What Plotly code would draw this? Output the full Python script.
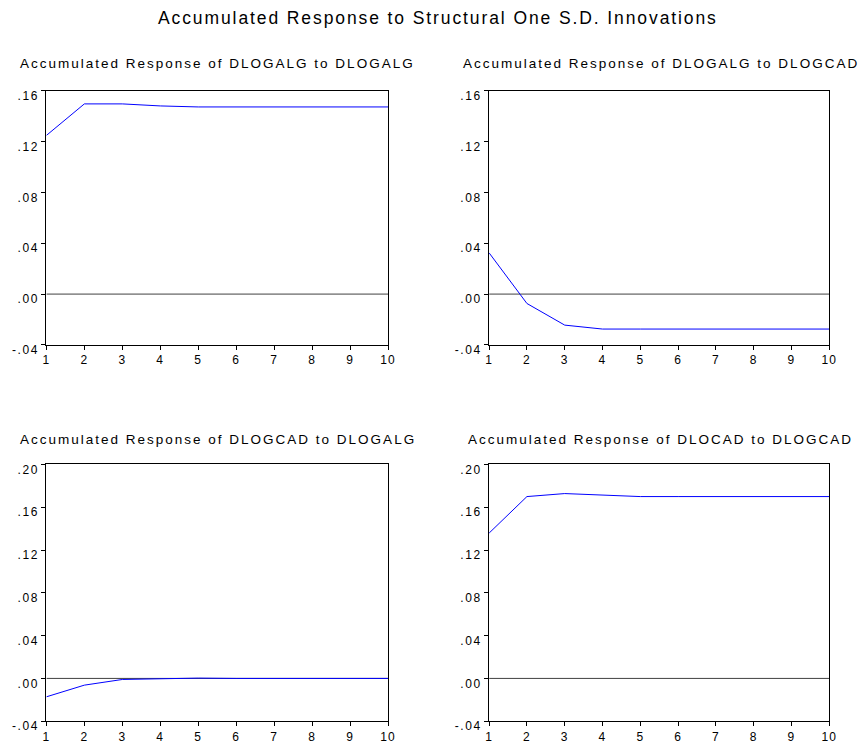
import plotly.graph_objects as go

# Forecast horizon (periods)
periods = [1, 2, 3, 4, 5, 6, 7, 8, 9, 10]

# Accumulated impulse responses
resp_alg_to_alg = [0.1248, 0.1496, 0.1496, 0.1480, 0.1472, 0.1472, 0.1472, 0.1472, 0.1472, 0.1472]
resp_alg_to_cad = [0.0324, -0.0074, -0.0244, -0.0275, -0.0275, -0.0275, -0.0275, -0.0275, -0.0275, -0.0275]
resp_cad_to_alg = [-0.0172, -0.0063, -0.0010, 0.0000, 0.0003, 0.0000, 0.0000, 0.0000, 0.0000, 0.0000]
resp_cad_to_cad = [0.1359, 0.1700, 0.1728, 0.1713, 0.1700, 0.1700, 0.1700, 0.1700, 0.1700, 0.1700]

panel_titles = [
    "Accumulated Response of DLOGALG to DLOGALG",
    "Accumulated Response of DLOGALG to DLOGCAD",
    "Accumulated Response of DLOGCAD to DLOGALG",
    "Accumulated Response of DLOCAD to DLOGCAD",
]
main_title = "Accumulated Response to Structural One S.D. Innovations"

top_ticks = [-0.04, 0.00, 0.04, 0.08, 0.12, 0.16]
top_ticktext = ["-.04", ".00", ".04", ".08", ".12", ".16"]
bottom_ticks = [-0.04, 0.00, 0.04, 0.08, 0.12, 0.16, 0.20]
bottom_ticktext = ["-.04", ".00", ".04", ".08", ".12", ".16", ".20"]
period_labels = ["1", "2", "3", "4", "5", "6", "7", "8", "9", "10"]

W, H = 859, 744
FONT = "Arial, Liberation Sans, Helvetica, sans-serif"


def spaced(text, px):
    """Wrap text in a tspan with extra letter spacing."""
    return f'<span style="letter-spacing:{px}px">{text}</span>'


# pixel boxes of each panel: (left, right, top, bottom)
boxes = [
    (43, 389.5, 90.5, 350),
    (492, 837, 90.5, 350),
    (43, 389.5, 472, 734),
    (492, 837, 472, 734),
]
series = [resp_alg_to_alg, resp_alg_to_cad, resp_cad_to_alg, resp_cad_to_cad]
yranges = [(-0.04, 0.16), (-0.04, 0.16), (-0.04, 0.20), (-0.04, 0.20)]
ytickvals = [top_ticks, top_ticks, bottom_ticks, bottom_ticks]
yticktexts = [top_ticktext, top_ticktext, bottom_ticktext, bottom_ticktext]
title_x = [14, 463, 14, 469]
title_y = [63, 63, 447, 447]

fig = go.Figure()
layout = dict(
    width=W, height=H,
    margin=dict(l=0, r=0, t=0, b=0),
    paper_bgcolor="white", plot_bgcolor="white",
    showlegend=False,
    font=dict(family=FONT, color="black"),
    annotations=[],
    shapes=[],
)

for i in range(4):
    l, r, t, b = boxes[i]
    xa = "xaxis" if i == 0 else f"xaxis{i+1}"
    ya = "yaxis" if i == 0 else f"yaxis{i+1}"
    xref = "x" if i == 0 else f"x{i+1}"
    yref = "y" if i == 0 else f"y{i+1}"

    fig.add_trace(go.Scatter(
        x=periods, y=series[i], mode="lines",
        line=dict(color="#0000ff", width=1),
        xaxis=xref, yaxis=yref, hoverinfo="x+y",
    ))

    layout[xa] = dict(
        domain=[l / W, r / W], anchor=yref,
        range=[1, 10], tickvals=periods,
        ticktext=[spaced(s, 1.2) for s in period_labels],
        ticks="outside", ticklen=4, tickwidth=1, tickcolor="black",
        showline=True, linecolor="black", linewidth=1, mirror=True,
        showgrid=False, zeroline=False,
        tickfont=dict(size=12, family=FONT, color="black"),
    )
    layout[ya] = dict(
        domain=[1 - b / H, 1 - t / H], anchor=xref,
        range=list(yranges[i]), tickvals=ytickvals[i],
        ticktext=[spaced(s, 1.6) for s in yticktexts[i]],
        ticks="outside", ticklen=4, tickwidth=1, tickcolor="black",
        showline=True, linecolor="black", linewidth=1, mirror=True,
        showgrid=False, zeroline=False,
        ticklabelshift=5, ticklabelstandoff=0,
        tickfont=dict(size=12, family=FONT, color="black"),
    )
    # zero reference line
    layout["shapes"].append(dict(
        type="line", xref=xref, yref=yref, x0=1, x1=10, y0=0, y1=0,
        line=dict(color="#404040", width=1), layer="below",
    ))
    layout["annotations"].append(dict(
        text=spaced(panel_titles[i], 2.0), xref="paper", yref="paper",
        x=title_x[i] / W, y=1 - title_y[i] / H,
        xanchor="left", yanchor="middle", showarrow=False,
        font=dict(size=13.5, family=FONT, color="black"),
    ))

layout["annotations"].append(dict(
    text=spaced(main_title, 1.9), xref="paper", yref="paper",
    x=154 / W, y=1 - 16 / H, xanchor="left", yanchor="middle",
    showarrow=False, font=dict(size=17.5, family=FONT, color="black"),
))

fig.update_layout(**layout)
fig.write_html("out.html")
